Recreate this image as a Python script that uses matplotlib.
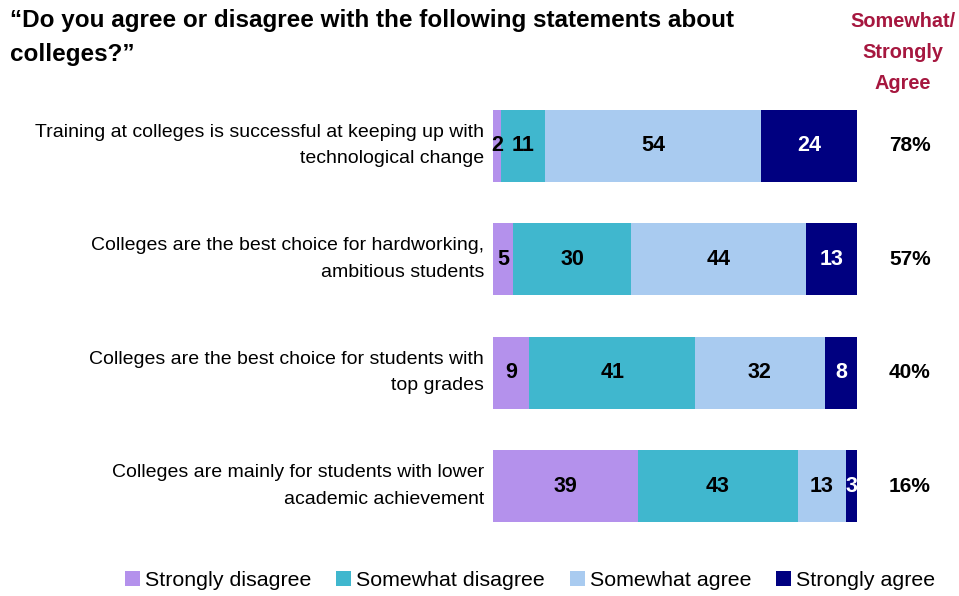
import matplotlib; matplotlib.use('Agg')
from matplotlib import pyplot as plt
from matplotlib.patches import Patch
import numpy as np

plt.rcParams['font.family'] = ['Liberation Sans', 'DejaVu Sans']

statements = ['Training at colleges is successful at keeping up with\ntechnological change',
	'Colleges are the best choice for hardworking,\nambitious students',
	'Colleges are the best choice for students with\ntop grades',
	'Colleges are mainly for students with lower\nacademic achievement']
series = ['Strongly disagree', 'Somewhat disagree', 'Somewhat agree', 'Strongly agree']
strongly_disagree = [2, 5, 9, 39]
somewhat_disagree = [11, 30, 41, 43]
somewhat_agree = [54, 44, 32, 13]
strongly_agree = [24, 13, 8, 3]
agree_total = ['78%', '57%', '40%', '16%']

colors = ['#B491EC', '#40B7CE', '#A9CBF0', '#000080']
text_colors = ['black', 'black', 'black', 'white']

fig = plt.figure(figsize=(9.59, 5.96), dpi=100)
ax = fig.add_axes([493/959., 0.0893, 364/959., 0.7617])

vals = np.array([strongly_disagree, somewhat_disagree, somewhat_agree, strongly_agree], dtype=float)
widths = vals / vals.sum(axis=0) * 100  # bars are drawn as full 100% rows
y = np.arange(len(statements))
left = np.zeros(len(statements))
for i in range(len(series)):
	ax.barh(y, widths[i], left=left, height=0.634, color=colors[i], label=series[i])
	for j in range(len(y)):
		ax.text(left[j] + widths[i][j]/2., y[j], '%d' % vals[i][j], ha='center', va='center',
			fontsize=15.5, fontweight='bold', color=text_colors[i])
	left += widths[i]

ax.set_xlim(0, 100)
ax.set_ylim(3.5, -0.5)
ax.axis('off')

for j in range(len(y)):
	ax.text(-2.5, y[j], statements[j], ha='right', va='center', fontsize=14, linespacing=1.7)
	ax.text(114.5, y[j], agree_total[j], ha='center', va='center', fontsize=15, fontweight='bold')

fig.text(10/959., 1 - 9/596., u'\u201cDo you agree or disagree with the following statements about\ncolleges?\u201d',
	ha='left', va='top', fontsize=17.5, fontweight='bold', linespacing=1.6)
fig.text(903/959., 1 - 12/596., 'Somewhat/\nStrongly\nAgree', ha='center', va='top', fontsize=14.3,
	fontweight='bold', color='#A6173F', linespacing=1.8)

handles = [Patch(facecolor=colors[i], edgecolor='none') for i in range(len(series))]
fig.legend(handles, series, loc='center', bbox_to_anchor=(530/959., 16/596.), ncol=4, frameon=False,
	fontsize=15.4, handlelength=0.7, handleheight=0.7, handletextpad=0.25, columnspacing=1.15,
	borderpad=0, borderaxespad=0)

plt.savefig('out.png', dpi=100)
